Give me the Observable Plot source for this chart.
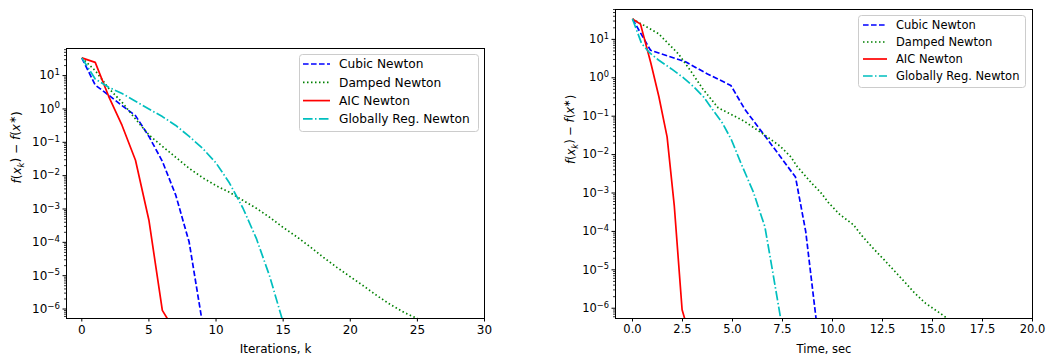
<!DOCTYPE html>
<html><head><meta charset="utf-8">
<script src="https://cdn.jsdelivr.net/npm/d3@7"></script>
<script src="https://cdn.jsdelivr.net/npm/@observablehq/plot@0.6"></script>
<style>
html,body{margin:0;padding:0;background:#fff;}
#wrap{position:relative;width:1047px;height:356px;overflow:hidden;font-family:"DejaVu Sans";}
#left,#right{position:absolute;top:0;}
#left{left:0;} #right{left:530px;}
</style></head><body><div id="wrap"><div id="left"></div><div id="right"></div></div>
<script>
// ---- data ----
const seriesNames = ["Cubic Newton", "Damped Newton", "AIC Newton", "Globally Reg. Newton"];

const cubicVals = [34, 5.2, 2.6, 1.26, 0.63, 0.15, 0.027, 2.6e-3, 1.0e-4, 3.5e-7];
const cubicTime = [0, 0.9, 2.65, 3.75, 4.92, 5.62, 6.7, 8.15, 8.66, 9.22];

const dampedVals = [34, 14.1, 4.17, 1.58, 0.50, 0.166, 0.0759, 0.0355, 0.0166, 8.7e-3, 5.0e-3, 3.16e-3,
  1.82e-3, 1.05e-3, 5.6e-4, 2.8e-4, 1.48e-4, 7.4e-5, 3.55e-5, 1.78e-5, 9.3e-6, 4.9e-6, 2.5e-6, 1.35e-6, 7.9e-7, 5.2e-7];
const dampedTime = [0, 1.3, 2.3, 2.88, 3.53, 4.28, 5.55, 6.5, 7.38, 7.92, 8.22, 8.55, 8.95, 9.4, 9.8, 10.35,
  11.05, 11.5, 12.05, 12.6, 13.1, 13.6, 14.1, 14.65, 15.3, 15.8];

const aicVals = [34, 25, 2.4, 0.32, 0.029, 4.6e-4, 9.1e-7, 2.0e-7];
const aicTime = [0, 0.4, 0.92, 1.32, 1.73, 2.09, 2.48, 2.85];

const globalVals = [34, 7.9, 4.5, 2.9, 1.7, 1.0, 0.59, 0.32, 0.15, 0.066, 0.024, 6.0e-3, 1.07e-3, 1.32e-4, 9.5e-6, 4.0e-7];
const globalTime = [0, 0.45, 0.85, 1.3, 1.95, 2.55, 3.05, 3.55, 4.0, 4.5, 4.95, 5.42, 6.04, 6.62, 7.0, 7.45];

const xTicksIter = [0, 5, 10, 15, 20, 25, 30];
const xTicksTime = [0, 2.5, 5, 7.5, 10, 12.5, 15, 17.5, 20];
const yDecades = [1e-6, 1e-5, 1e-4, 1e-3, 1e-2, 1e-1, 1e0, 1e1];
const yExponents = ["−6", "−5", "−4", "−3", "−2", "−1", "0", "1"];
const xLabelIter = "Iterations, k";
const xLabelTime = "Time, sec";
const yLabel = "f(x_k) − f(x*)";

// ---- styles ----
const seriesStyle = [
  {stroke: "#0000ff", dash: "5.6,2.4"},
  {stroke: "#008000", dash: "1.5,2.5"},
  {stroke: "#ff0000", dash: null},
  {stroke: "#00bfbf", dash: "9.6,2.4,1.5,2.4"}
];

function rows(vals, xs) { return vals.map((v, i) => ({x: xs ? xs[i] : i, y: v})); }

function minorTicks(lo, hi) {
  const out = [];
  for (let e = -8; e <= 2; e++) for (let m = 2; m <= 9; m++) {
    const v = m * Math.pow(10, e);
    if (v >= lo && v <= hi) out.push(v);
  }
  return out;
}

function makePlot(cfg) {
  const data = [rows(cubicVals, cfg.xs && cfg.xs[0]), rows(dampedVals, cfg.xs && cfg.xs[1]),
                rows(aicVals, cfg.xs && cfg.xs[2]), rows(globalVals, cfg.xs && cfg.xs[3])];
  const lines = data.map((d, i) => Plot.line(d, {
    x: "x", y: "y", stroke: seriesStyle[i].stroke, strokeWidth: 1.7,
    strokeDasharray: seriesStyle[i].dash, strokeLinejoin: "round", strokeLinecap: "butt", clip: true
  }));
  const svg = Plot.plot({
    width: cfg.width, height: 356,
    marginLeft: cfg.ml, marginRight: cfg.mr, marginTop: cfg.mt, marginBottom: 38,
    style: {fontFamily: "DejaVu Sans", fontSize: cfg.fs + "px", color: "#000", background: "transparent"},
    x: {domain: cfg.xdomain},
    y: {type: "log", domain: cfg.ydomain},
    marks: [
      ...lines,
      Plot.frame({stroke: "#000", strokeWidth: 1}),
      Plot.axisX(cfg.xticks, {tickSize: 3.5, tickPadding: 3, label: null, tickFormat: cfg.xfmt, stroke: "#000"}),
      Plot.axisY(yDecades, {tickSize: 3.5, tickPadding: 3, label: null, stroke: "#000",
        tickFormat: d => yExponents[yDecades.indexOf(d)]}),
      Plot.axisY(minorTicks(cfg.ydomain[0], cfg.ydomain[1]), {tickSize: 2, label: null, stroke: "#000", strokeWidth: 0.8, tickFormat: () => ""}),
      Plot.text([cfg.xlabel], {frameAnchor: "bottom", lineAnchor: "middle", dy: 31, text: d => d, fontSize: cfg.fs}),
      Plot.text([yLabel], {frameAnchor: "left", dx: cfg.ylabDx, rotate: -90, text: d => d, fontSize: cfg.fs})
    ]
  });
  const s = d3.select(svg);
  // superscript exponents on log ticks
  s.selectAll('g[aria-label="y-axis tick label"] text').each(function () {
    const e = this.textContent;
    if (!e) return;
    this.textContent = "10";
    d3.select(this).append("tspan").attr("dy", "-0.5em").attr("font-size", "0.72em").text(e);
  });
  // math-styled y label
  s.selectAll("text").filter(function () { return this.textContent === yLabel; }).each(function () {
    const t = d3.select(this);
    t.text("");
    const parts = [
      {s: "f", it: true}, {s: "("}, {s: "x", it: true}, {s: "k", it: true, sub: true},
      {s: ")", back: 0.28}, {s: " − "}, {s: "f", it: true}, {s: "("}, {s: "x", it: true},
      {s: "∗", sup: true}, {s: ")", back: -0.45}
    ];
    parts.forEach(p => {
      const ts = t.append("tspan").text(p.s);
      if (p.it) ts.attr("font-style", "italic");
      if (p.sub) ts.attr("dy", "0.28em").attr("font-size", "0.72em");
      if (p.sup) ts.attr("dy", "-0.45em").attr("font-size", "0.8em");
      if (p.back !== undefined) ts.attr("dy", (-p.back) + "em");
    });
  });
  // legend
  const g = s.append("g").attr("text-anchor", "start");
  const L = cfg.legend;
  g.append("rect").attr("x", L.x + 0.5).attr("y", L.y + 0.5).attr("width", L.w).attr("height", L.h)
    .attr("rx", 3).attr("fill", "#fff").attr("fill-opacity", 0.8).attr("stroke", "#cccccc").attr("stroke-width", 1);
  seriesNames.forEach((name, i) => {
    const cy = L.y + L.row0 + i * L.step;
    g.append("line").attr("x1", L.x + L.s0).attr("x2", L.x + L.s1).attr("y1", cy).attr("y2", cy)
      .attr("stroke", seriesStyle[i].stroke).attr("stroke-width", 1.7)
      .attr("stroke-dasharray", seriesStyle[i].dash);
    g.append("text").attr("x", L.x + L.tx).attr("y", cy).attr("dy", "0.35em").attr("text-anchor", "start")
      .attr("font-size", L.fs + "px").attr("fill", "#000").text(name);
  });
  return svg;
}

document.getElementById("left").appendChild(makePlot({
  width: 500, ml: 66, mr: 16, mt: 48, fs: 12,
  xdomain: [-1.14, 30], ydomain: [5.2e-7, 65],
  xticks: xTicksIter, xfmt: d => String(d), xlabel: xLabelIter, ylabDx: -49,
  legend: {x: 299, y: 54, w: 179, h: 77, row0: 10, step: 18.3, s0: 4, s1: 31, tx: 40, fs: 12.2}
}));
document.getElementById("right").appendChild(makePlot({
  width: 517, ml: 85, mr: 15, mt: 9, fs: 11.5,
  xdomain: [-0.85, 20], ydomain: [5.4e-7, 60],
  xs: [cubicTime, dampedTime, aicTime, globalTime],
  xticks: xTicksTime, xfmt: d => d.toFixed(1), xlabel: xLabelTime, ylabDx: -44,
  legend: {x: 328, y: 15, w: 167, h: 72, row0: 10, step: 17, s0: 5, s1: 29, tx: 38, fs: 11.5}
}));
</script></body></html>
